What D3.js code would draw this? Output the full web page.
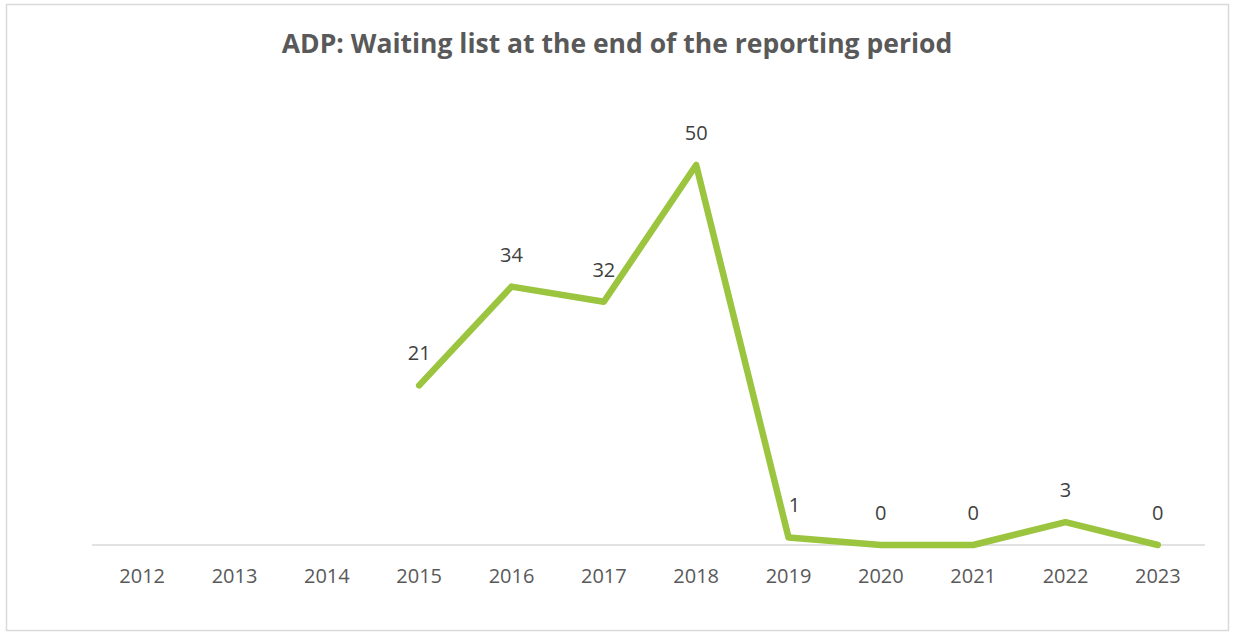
<!DOCTYPE html>
<html>
<head>
<meta charset="utf-8">
<script src="https://cdn.jsdelivr.net/npm/d3@7"></script>
<style>
  body { margin: 0; background: #fff; }
  svg { display: block; font-family: "Open Sans", "Noto Sans", sans-serif; }
</style>
</head>
<body>
<div id="chart"></div>
<script>
// chart data
var years = ["2012", "2013", "2014", "2015", "2016", "2017", "2018", "2019", "2020", "2021", "2022", "2023"];
var waiting = [null, null, null, 21, 34, 32, 50, 1, 0, 0, 3, 0];
var title = "ADP: Waiting list at the end of the reporting period";

var width = 1233, height = 634;
var margin = {top: 89, right: 28, bottom: 89, left: 96};

var svg = d3.select("#chart").append("svg")
    .attr("width", width)
    .attr("height", height);

// outer frame
svg.append("rect")
    .attr("x", 6.5).attr("y", 4.5)
    .attr("width", 1222).attr("height", 626)
    .attr("fill", "#fff")
    .attr("stroke", "#d9d9d9")
    .attr("stroke-width", 1.5);

svg.append("text")
    .attr("x", 617)
    .attr("y", 53)
    .attr("text-anchor", "middle")
    .attr("font-size", 26.5)
    .attr("font-weight", "bold")
    .attr("fill", "#595959")
    .text(title);

var xScale = d3.scaleBand()
    .domain(years)
    .range([margin.left, width - 29]);

var yScale = d3.scaleLinear()
    .domain([0, 60])
    .range([height - margin.bottom, margin.top]);

// x axis
var xAxis = d3.axisBottom(xScale).tickSize(0).tickPadding(24);
var gX = svg.append("g")
    .attr("transform", "translate(0," + yScale(0) + ")")
    .call(xAxis);
gX.select(".domain")
    .attr("stroke", "#d9d9d9")
    .attr("stroke-width", 1.5)
    .attr("d", "M" + (margin.left - 4) + ",0H" + (width - 28));
gX.selectAll("text")
    .attr("font-size", 20)
    .attr("fill", "#595959")
    .attr("font-family", "\"Open Sans\", \"Noto Sans\", sans-serif");

var points = years.map(function(y, i) { return {year: y, value: waiting[i]}; })
    .filter(function(d) { return d.value !== null; });

var line = d3.line()
    .x(function(d) { return xScale(d.year) + xScale.bandwidth() / 2; })
    .y(function(d) { return yScale(d.value); });

svg.append("path")
    .datum(points)
    .attr("fill", "none")
    .attr("stroke", "#9bc43f")
    .attr("stroke-width", 6.5)
    .attr("stroke-linejoin", "round")
    .attr("stroke-linecap", "round")
    .attr("d", line);

svg.append("g").selectAll("text")
    .data(points)
  .enter().append("text")
    .attr("x", function(d) { return xScale(d.year) + xScale.bandwidth() / 2 + (d.value === 1 ? 6 : 0); })
    .attr("y", function(d) { return yScale(d.value) - 25; })
    .attr("text-anchor", "middle")
    .attr("font-size", 20)
    .attr("fill", "#404040")
    .text(function(d) { return d.value; });
</script>
</body>
</html>
